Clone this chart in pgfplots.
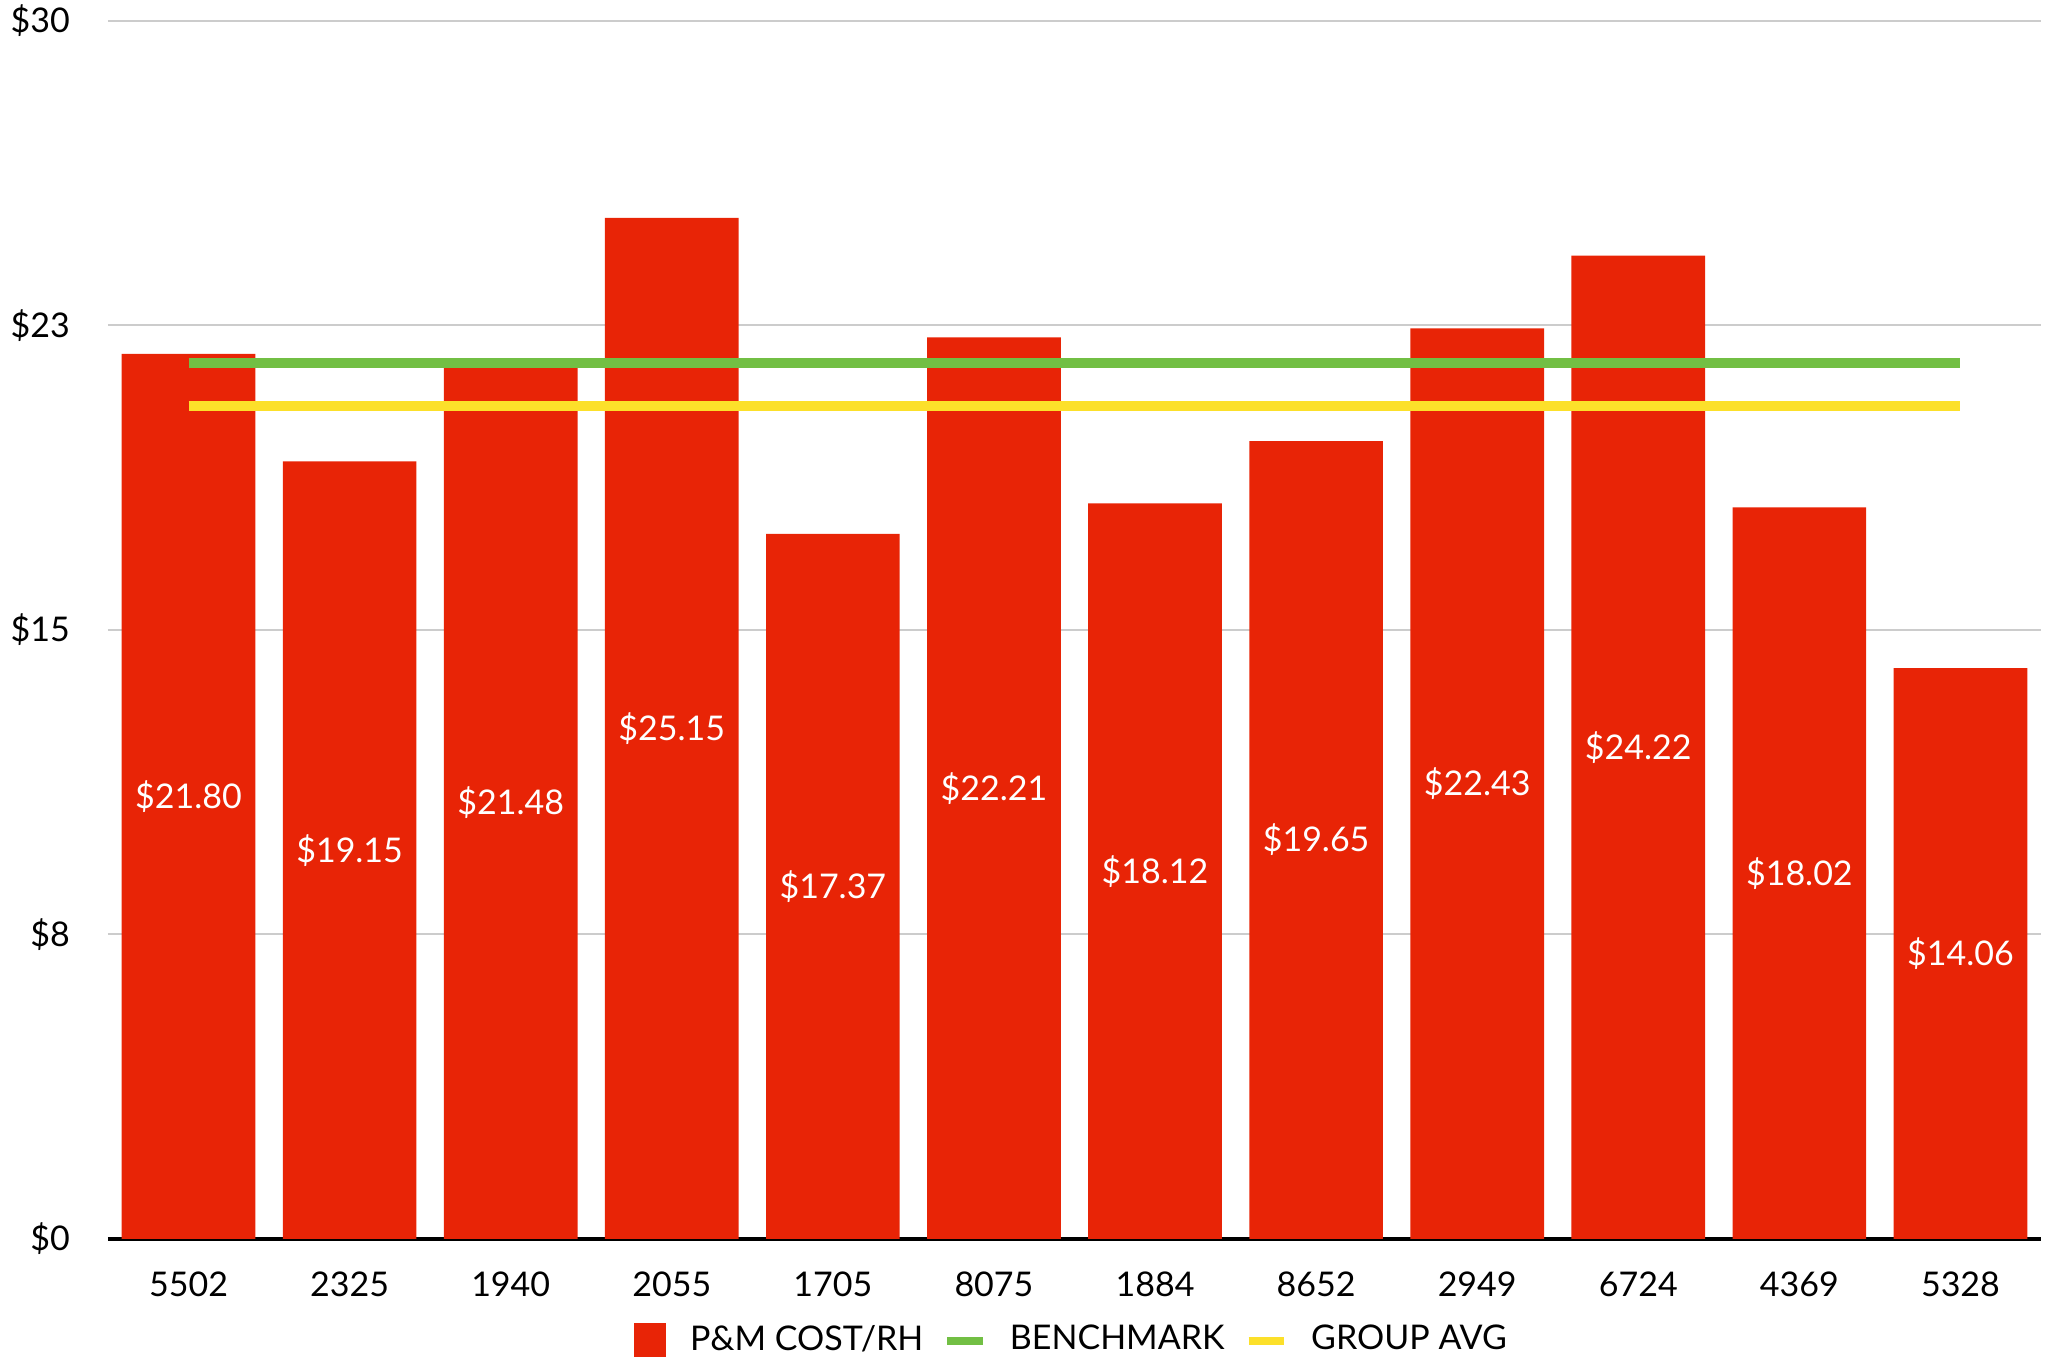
\documentclass[border=0pt]{standalone}
\usepackage{fontspec}
\setmainfont{Lato}
\usepackage{pgfplots}
\usepackage{pgfplotstable}
\pgfplotsset{compat=1.18}
\definecolor{barred}{RGB}{232,36,6}
\definecolor{bmgreen}{RGB}{114,191,68}
\definecolor{avgyellow}{RGB}{252,224,42}
\definecolor{gridgray}{RGB}{204,204,204}
\pgfplotstableread{
x y lbl
0 21.80 21.80
1 19.15 19.15
2 21.48 21.48
3 25.15 25.15
4 17.37 17.37
5 22.21 22.21
6 18.12 18.12
7 19.65 19.65
8 22.43 22.43
9 24.22 24.22
10 18.02 18.02
11 14.06 14.06
}\costtable
\begin{document}
\begin{tikzpicture}
\useasboundingbox (-27pt,-29.5pt) rectangle (484.25pt,309.75pt);
\begin{axis}[
  scale only axis,
  width=483.25pt, height=304.5pt,
  xmin=-0.5, xmax=11.5,
  ymin=0, ymax=30,
  xtick={0,...,11},
  xticklabels={5502,2325,1940,2055,1705,8075,1884,8652,2949,6724,4369,5328},
  ytick={0,7.5,15,22.5,30},
  yticklabels={\$0,\$8,\$15,\$23,\$30},
  major tick length=0pt,
  ymajorgrids,
  grid style={gridgray, line width=0.5pt},
  axis x line*=bottom,
  axis y line*=left,
  x axis line style={black, line width=0.8pt, -},
  y axis line style={draw=none},
  tick label style={font=\fontsize{8.5}{10}\selectfont, text=black},
  xticklabel style={yshift=-4.8pt},
  yticklabel style={xshift=-6pt},
  legend columns=3,
  legend style={draw=none, at={(axis description cs:0.5,0)}, anchor=center, yshift=-25.4pt,
    font=\fontsize{8.5}{10}\selectfont, /tikz/every even column/.append style={column sep=3pt}},
  legend cell align=left,
  clip=false,
]
\addplot[ybar, bar width=0.83, bar shift=0pt, fill=barred, draw=none,
  legend image code/.code={\fill[barred] (0pt,-4.4pt) rectangle (8pt,4.4pt); \path (12pt,0pt);}]
  table[x=x, y=y] {\costtable};
\addlegendentry{P\&M COST/RH}
\addplot[bmgreen, line width=2.5pt, mark=none,
  legend image code/.code={\draw[bmgreen, line width=2pt] (0pt,0pt) -- (8.8pt,0pt); \path (12.4pt,0pt);}]
  coordinates {(0,21.58) (11,21.58)};
\addlegendentry{BENCHMARK}
\addplot[avgyellow, line width=2.5pt, mark=none,
  legend image code/.code={\draw[avgyellow, line width=2pt] (0pt,0pt) -- (8.8pt,0pt); \path (12.4pt,0pt);}]
  coordinates {(0,20.52) (11,20.52)};
\addlegendentry{GROUP AVG}
\addplot[draw=none, mark=none, forget plot,
  point meta=explicit symbolic,
  nodes near coords={\$\pgfplotspointmeta},
  every node near coord/.append style={anchor=center, text=white, font=\fontsize{8.5}{10}\selectfont}]
  table[x=x, y expr=\thisrow{y}/2, meta=lbl] {\costtable};
\end{axis}
\end{tikzpicture}
\end{document}
